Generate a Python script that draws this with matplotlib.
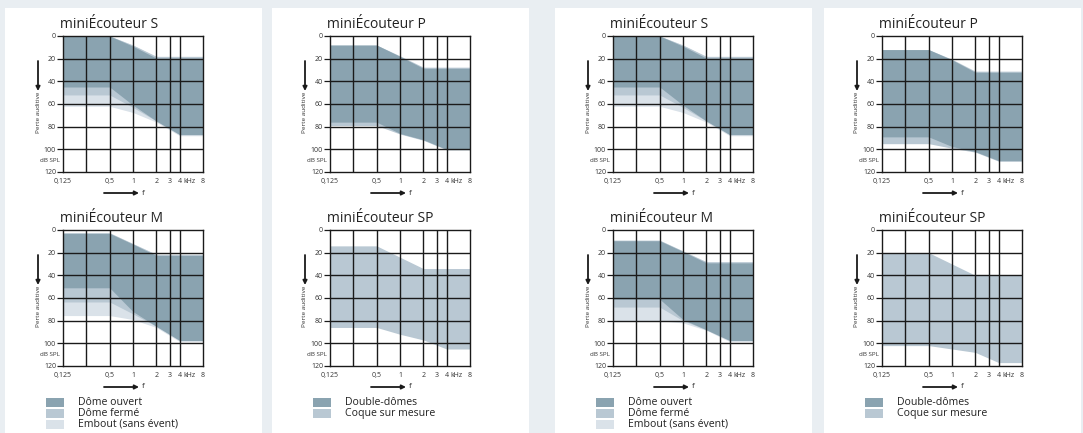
import matplotlib.pyplot as plt
from matplotlib.patches import Rectangle
from matplotlib.ticker import NullLocator

plt.rcParams['font.family'] = ['Open Sans', 'DejaVu Sans']

W, H = 1083, 433

# frequency points (kHz) where the range borders bend
freq = [0.125, 0.5, 1, 2, 4, 8]
grid_freq = [0.25, 0.5, 1, 2, 3, 4]
tick_freq = [0.125, 0.5, 1, 2, 3, 4, 8]
tick_freq_labels = ['0,125', '0,5', '1', '2', '3', '4', '8']
loss_ticks = [0, 20, 40, 60, 80, 100, 120]

# miniÉcouteur S (same in both halves)
s_top = [0, 0, 9, 19.5, 19.5, 19.5]
s_top_light = [0, 0, 8, 18, 18, 18]
s_open_bot = [45, 45, 61, 75, 87, 87]
s_closed_bot = [52, 52, 63, 75, 87, 87]
s_mould_bot = [62, 62, 67.5, 76, 88, 88]

# miniÉcouteur M, left half
m1_top = [3, 3, 12.5, 22.5, 22.5, 22.5]
m1_top_light = [2.5, 2.5, 12, 21.5, 21.5, 21.5]
m1_open_bot = [51, 51, 72, 85, 97.5, 97.5]
m1_closed_bot = [63.5, 63.5, 74, 85, 97.5, 97.5]
m1_mould_bot = [75.5, 75.5, 79, 86, 98.5, 98.5]

# miniÉcouteur M, right half
m2_top = [9.5, 9.5, 19, 29, 29, 29]
m2_top_light = [9, 9, 18.5, 28, 28, 28]
m2_open_bot = [61, 61, 79, 88, 97.5, 97.5]
m2_closed_bot = [68, 68, 80, 88, 97.5, 97.5]
m2_mould_bot = [80, 80, 82, 88.5, 98.5, 98.5]

# miniÉcouteur P, left half
p1_top = [8, 8, 18, 28.5, 28.5, 28.5]
p1_top_light = [8, 8, 17.5, 27.5, 27.5, 27.5]
p1_double_bot = [76, 76, 86, 91.5, 100, 100]
p1_shell_bot = [79, 79, 86.5, 92, 100.5, 100.5]

# miniÉcouteur P, right half
p2_top = [12, 12, 21, 32, 32, 32]
p2_top_light = [12, 12, 20.5, 31, 31, 31]
p2_double_bot = [89, 89, 97.5, 102, 110, 110]
p2_shell_bot = [95, 95, 99, 102.5, 110.5, 110.5]

# miniÉcouteur SP (custom shell only)
sp1_top = [14, 14, 24, 34, 34, 34]
sp1_shell_bot = [86, 86, 92, 97, 105, 105]
sp2_top = [20, 20, 30, 40, 40, 40]
sp2_shell_bot = [102, 102, 105, 108, 117, 117]

dome_labels = ['Dôme ouvert', 'Dôme fermé', 'Embout (sans évent)']
shell_labels = ['Double-dômes', 'Coque sur mesure']

BG = '#e9eef2'
DARK = '#8aa3b0'
MID = '#b9c8d3'
LIGHT = '#dae2e9'
INK = '#1a1a1a'
TXT = '#333333'

fig = plt.figure(figsize=(W / 100, H / 100), dpi=100, facecolor=BG)


def fx(x):
    return x / W


def fy(y):
    return 1 - y / H


def draw_chart(left, top, title, layers):
    ax = fig.add_axes([fx(left), fy(top + 136), 140 / W, 136 / H])
    for color, upper, lower in layers:
        ax.fill_between(freq, upper, lower, color=color, lw=0, zorder=1)
    ax.set_xscale('log', base=2)
    ax.set_xlim(0.125, 8)
    ax.set_ylim(120, 0)
    for f in grid_freq:
        ax.axvline(f, color=INK, lw=1.0, zorder=3)
    for y in loss_ticks[1:-1]:
        ax.axhline(y, color=INK, lw=1.0, zorder=3)
    for sp in ax.spines.values():
        sp.set_color(INK)
        sp.set_linewidth(1.0)
    ax.xaxis.set_minor_locator(NullLocator())
    ax.set_xticks(tick_freq)
    ax.set_xticklabels(tick_freq_labels)
    ax.set_yticks(loss_ticks)
    ax.set_yticklabels([str(v) for v in loss_ticks])
    ax.tick_params(axis='x', length=0, labelsize=5, pad=4, colors=TXT)
    ax.tick_params(axis='y', length=4, width=0.9, labelsize=5, pad=1,
                   colors=TXT)
    ax.tick_params(axis='y', color=INK)
    ax.set_facecolor('white')

    ax.annotate('kHz', xy=(4, 120), xycoords='data', xytext=(2.5, -4),
                textcoords='offset points', ha='left', va='top', fontsize=5,
                color=TXT, annotation_clip=False)
    fig.text(fx(left - 3), fy(top + 125), 'dB SPL', fontsize=4.5, ha='right',
             va='center', color=TXT)
    fig.text(fx(left - 3), fy(top - 8), title, fontsize=10, va='baseline',
             color='#222222')

    # axis captions with arrows
    fig.text(fx(left - 25), fy(top + 76), 'Perte auditive', rotation=90,
             fontsize=4.6, ha='center', va='center', color=TXT)
    ax.annotate('', xy=(fx(left - 25), fy(top + 55)),
                xytext=(fx(left - 25), fy(top + 25)),
                xycoords='figure fraction',
                arrowprops=dict(arrowstyle='-|>', color=INK, lw=1.3,
                                mutation_scale=6, shrinkA=0, shrinkB=0))
    ax.annotate('', xy=(fx(left + 76), fy(top + 157)),
                xytext=(fx(left + 41), fy(top + 157)),
                xycoords='figure fraction',
                arrowprops=dict(arrowstyle='-|>', color=INK, lw=1.3,
                                mutation_scale=6, shrinkA=0, shrinkB=0))
    fig.text(fx(left + 80), fy(top + 157), 'f', fontsize=6, ha='center',
             va='center', color=TXT)
    return ax


def draw_legend(left, colors, labels):
    for i, (c, lab) in enumerate(zip(colors, labels)):
        yc = 402.5 + i * 11
        fig.patches.append(Rectangle((fx(left - 17), fy(yc + 4.7)), 18 / W,
                                     9.4 / H, transform=fig.transFigure,
                                     facecolor=c, edgecolor='none'))
        fig.text(fx(left + 15), fy(yc), lab, fontsize=7.6, va='center',
                 color='#222222')


panel_lefts = [63, 330, 613, 882]
for pl in panel_lefts:
    fig.patches.append(Rectangle((fx(pl - 58), 0), 257 / W, fy(8),
                                 transform=fig.transFigure, facecolor='white',
                                 edgecolor='none', zorder=-5))

draw_chart(63, 36, 'miniÉcouteur S',
           [(LIGHT, s_top_light, s_mould_bot), (MID, s_top_light, s_closed_bot),
            (DARK, s_top, s_open_bot)])
draw_chart(63, 230, 'miniÉcouteur M',
           [(LIGHT, m1_top_light, m1_mould_bot), (MID, m1_top_light, m1_closed_bot),
            (DARK, m1_top, m1_open_bot)])
draw_legend(63, [DARK, MID, LIGHT], dome_labels)

draw_chart(330, 36, 'miniÉcouteur P',
           [(MID, p1_top_light, p1_shell_bot), (DARK, p1_top, p1_double_bot)])
draw_chart(330, 230, 'miniÉcouteur SP', [(MID, sp1_top, sp1_shell_bot)])
draw_legend(330, [DARK, MID], shell_labels)

draw_chart(613, 36, 'miniÉcouteur S',
           [(LIGHT, s_top_light, s_mould_bot), (MID, s_top_light, s_closed_bot),
            (DARK, s_top, s_open_bot)])
draw_chart(613, 230, 'miniÉcouteur M',
           [(LIGHT, m2_top_light, m2_mould_bot), (MID, m2_top_light, m2_closed_bot),
            (DARK, m2_top, m2_open_bot)])
draw_legend(613, [DARK, MID, LIGHT], dome_labels)

draw_chart(882, 36, 'miniÉcouteur P',
           [(MID, p2_top_light, p2_shell_bot), (DARK, p2_top, p2_double_bot)])
draw_chart(882, 230, 'miniÉcouteur SP', [(MID, sp2_top, sp2_shell_bot)])
draw_legend(882, [DARK, MID], shell_labels)

fig.savefig('out.png', dpi=100, facecolor=BG)
